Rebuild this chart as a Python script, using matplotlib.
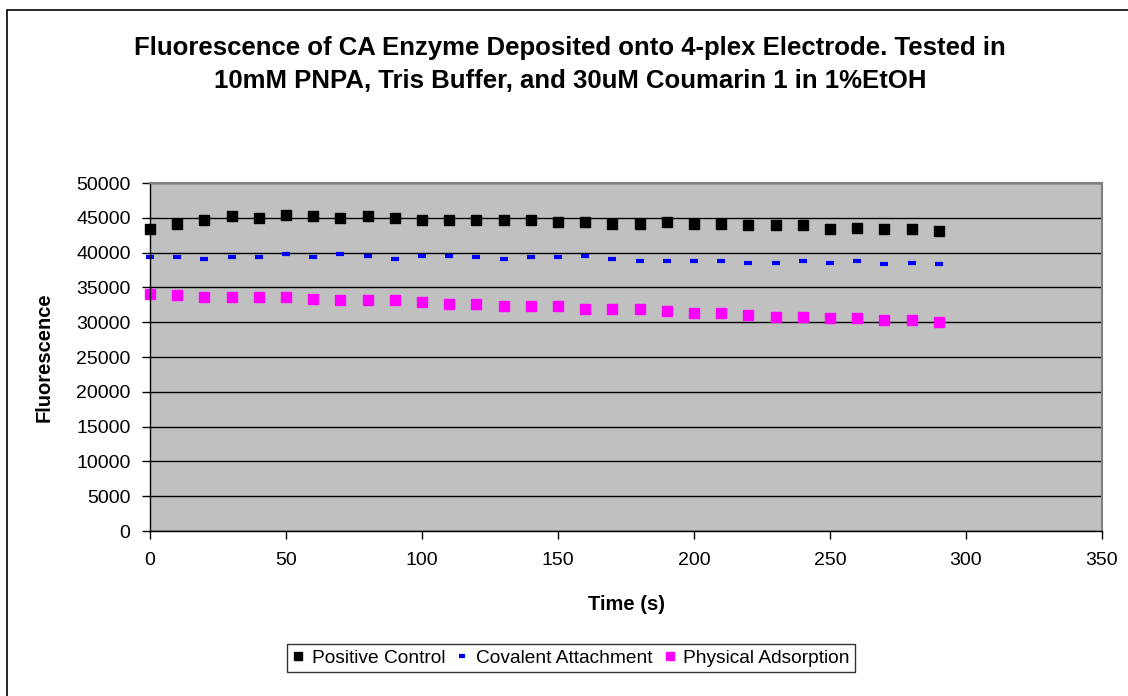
import matplotlib
matplotlib.use("Agg")
import matplotlib.pyplot as plt
from matplotlib.patches import Rectangle

plt.rcParams['font.family'] = ['Liberation Sans', 'DejaVu Sans']

time_s = [0, 10, 20, 30, 40, 50, 60, 70, 80, 90, 100, 110, 120, 130, 140,
          150, 160, 170, 180, 190, 200, 210, 220, 230, 240, 250, 260, 270, 280, 290]
positive_control = [43400, 44100, 44650, 45200, 44950, 45400, 45200, 44950, 45200, 44950,
                     44650, 44650, 44650, 44650, 44650, 44400, 44400, 44100, 44100, 44400,
                     44100, 44100, 43900, 43900, 43900, 43350, 43600, 43350, 43350, 43100]
covalent_attachment = [39300, 39300, 39080, 39300, 39300, 39850, 39300, 39850, 39570, 39080,
                       39570, 39570, 39300, 39080, 39300, 39300, 39570, 39080, 38790, 38790,
                       38790, 38790, 38560, 38560, 38790, 38560, 38790, 38310, 38560, 38310]
physical_adsorption = [34100, 33900, 33600, 33600, 33600, 33600, 33360, 33130, 33130, 33130,
                       32840, 32600, 32600, 32350, 32350, 32350, 31830, 31830, 31830, 31590,
                       31340, 31340, 31100, 30810, 30810, 30570, 30570, 30290, 30290, 30050]
series_names = ["Positive Control", "Covalent Attachment", "Physical Adsorption"]
x_ticks = [0, 50, 100, 150, 200, 250, 300, 350]
y_ticks = list(range(0, 50001, 5000))

W, H = 1128, 696
fig = plt.figure(figsize=(W / 100, H / 100), dpi=100)
ax = fig.add_axes([150 / W, 1 - 531 / H, (1102 - 150) / W, (531 - 183) / H])

# outer chart frame
fig.patches.append(Rectangle((7 / W, -0.1), 1.2, 1 - 10 / H + 0.1, transform=fig.transFigure,
                             fill=False, edgecolor='black', linewidth=1.2))

ax.set_facecolor('#C0C0C0')
ax.set_xlim(0, 350)
ax.set_ylim(0, 50000)
ax.set_xticks(x_ticks)
ax.set_yticks(y_ticks)
ax.yaxis.grid(True, color='black', linewidth=1)
ax.set_axisbelow(True)
for s in ['top', 'right']:
    ax.spines[s].set_color('#808080')
    ax.spines[s].set_linewidth(1.5)
for s in ['left', 'bottom']:
    ax.spines[s].set_color('black')
    ax.spines[s].set_linewidth(1)
ax.tick_params(axis='both', direction='out', length=6, width=1, labelsize=14, colors='black')
ax.tick_params(axis='y', pad=8)
ax.tick_params(axis='x', pad=9)

ax.plot(time_s, positive_control, linestyle='none', marker='s', markersize=7.5,
        color='black', label=series_names[0], clip_on=False)
ax.plot(time_s, covalent_attachment, linestyle='none', marker='_', markersize=5.5,
        markeredgewidth=3, color='#0000FF', label=series_names[1], clip_on=False)
ax.plot(time_s, physical_adsorption, linestyle='none', marker='s', markersize=7.5,
        color='#FF00FF', label=series_names[2], clip_on=False)

ax.set_xlabel("Time (s)", fontsize=14.5, fontweight='bold', labelpad=19)
ax.set_ylabel("Fluorescence", fontsize=14.5, fontweight='bold', labelpad=16)

fig.text(570 / W, 1 - 64.5 / H,
         "Fluorescence of CA Enzyme Deposited onto 4-plex Electrode. Tested in\n"
         "10mM PNPA, Tris Buffer, and 30uM Coumarin 1 in 1%EtOH",
         ha='center', va='center', fontsize=18.5, fontweight='bold', linespacing=1.48)

leg = fig.legend(loc='center', bbox_to_anchor=(571 / W, 1 - 658 / H), ncol=3,
                 frameon=True, fancybox=False, edgecolor='black', fontsize=13.8,
                 handlelength=0.6, handletextpad=0.4, columnspacing=0.6,
                 borderpad=0.3, markerscale=0.75)
leg.get_frame().set_linewidth(1)

fig.savefig("out.png", dpi=100)
